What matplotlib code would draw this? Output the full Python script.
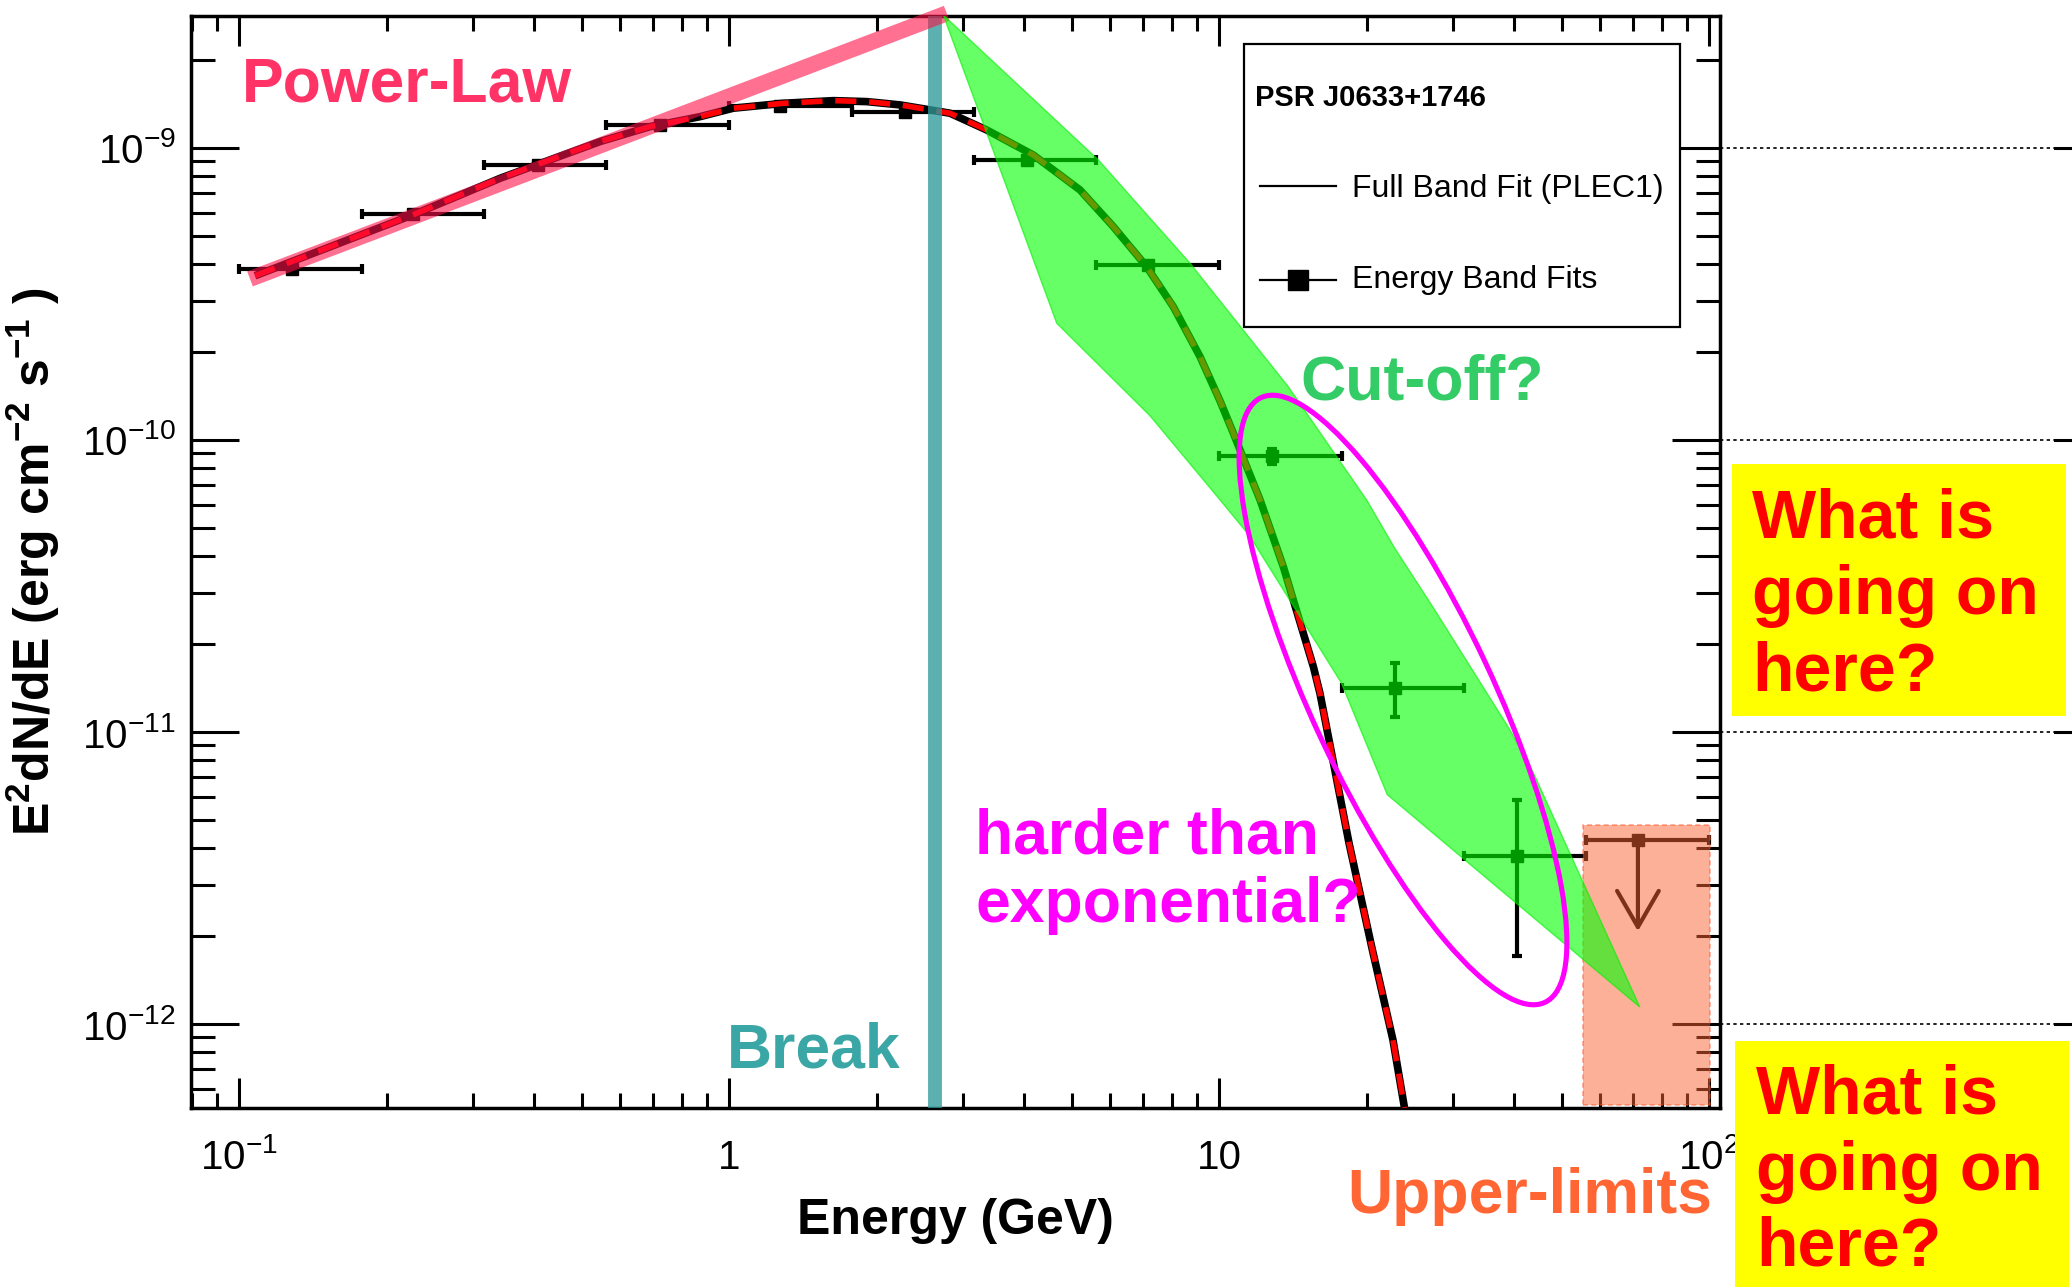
import numpy as np
import matplotlib
matplotlib.use("Agg")
import matplotlib.pyplot as plt
from matplotlib.patches import Rectangle, Ellipse, Polygon
from matplotlib.lines import Line2D
from matplotlib.ticker import FixedLocator, FixedFormatter, LogLocator, NullFormatter

plt.rcParams['font.family'] = ['Liberation Sans', 'DejaVu Sans']
plt.rcParams['mathtext.fontset'] = 'custom'
plt.rcParams['mathtext.rm'] = 'Liberation Sans'
plt.rcParams['mathtext.bf'] = 'Liberation Sans:bold'
plt.rcParams['mathtext.it'] = 'Liberation Sans:italic'

# energy band fits: GeV and erg cm^-2 s^-1
band_lo = [0.1, 0.178, 0.316, 0.562, 1.0, 1.78, 3.16, 5.62, 10.0, 17.8, 31.6]
band_hi = [0.178, 0.316, 0.562, 1.0, 1.78, 3.16, 5.62, 10.0, 17.8, 31.6, 56.2]
band_e = [0.128, 0.227, 0.408, 0.723, 1.27, 2.29, 4.05, 7.17, 12.8, 22.9, 40.6]
band_f = [3.85e-10, 5.94e-10, 8.74e-10, 1.20e-9, 1.39e-9, 1.33e-9, 9.1e-10, 3.97e-10, 8.8e-11, 1.42e-11, 3.77e-12]
band_f_lo = [3.85e-10, 5.94e-10, 8.74e-10, 1.20e-9, 1.39e-9, 1.33e-9, 9.1e-10, 3.97e-10, 8.3e-11, 1.13e-11, 1.71e-12]
band_f_hi = [3.85e-10, 5.94e-10, 8.74e-10, 1.20e-9, 1.39e-9, 1.33e-9, 9.1e-10, 3.97e-10, 9.3e-11, 1.73e-11, 5.85e-12]

# upper limit in last band
ul_lo, ul_hi, ul_e, ul_f, ul_to = 56.2, 100.0, 71.6, 4.27e-12, 2.08e-12

# full band fit (PLEC1)
fit_e = [0.1078, 0.228, 0.341, 0.431, 0.545, 0.690, 0.873, 1.020, 1.291, 1.633, 1.910,
         2.234, 2.825, 3.357, 4.178, 5.204, 6.084, 7.118, 8.067, 9.146, 10.05, 10.70,
         11.39, 12.13, 12.81, 13.53, 14.18, 14.86, 15.58, 16.07, 18.42, 20.52, 22.65, 23.91]
fit_f = [3.65e-10, 5.93e-10, 7.87e-10, 9.10e-10, 1.051e-9, 1.183e-9, 1.280e-9, 1.368e-9,
         1.422e-9, 1.452e-9, 1.441e-9, 1.404e-9, 1.315e-9, 1.152e-9, 9.46e-10, 7.18e-10,
         5.38e-10, 3.92e-10, 2.86e-10, 1.929e-10, 1.36e-10, 1.054e-10, 8.10e-11, 6.23e-11,
         4.79e-11, 3.68e-11, 2.83e-11, 2.18e-11, 1.674e-11, 1.357e-11, 4.17e-12, 1.82e-12,
         8.81e-13, 5.16e-13]

# power-law sketch and break energy
pl_e = [0.1053, 2.782]
pl_f = [3.56e-10, 2.89e-9]
break_e = 2.636

# green "cut-off" band outline (right edge down, left edge back up)
cut_e = [2.737, 5.672, 8.728, 13.85, 20.02, 22.86, 27.36, 39.2, 43.68, 72.26,
         22.05, 17.77, 11.54, 10.05, 7.23, 4.665]
cut_f = [2.853e-9, 9.10e-10, 4.03e-10, 1.522e-10, 6.23e-11, 4.25e-11, 2.67e-11, 1.021e-11, 7.33e-12, 1.143e-12,
         6.1e-12, 1.472e-11, 4.70e-11, 6.23e-11, 1.210e-10, 2.51e-10]

# upper-limit region
ulbox_e = [55.2, 100.5]
ulbox_f = [5.3e-13, 4.79e-12]

x_ticks = [0.1, 1, 10, 100]
x_labels = [r'$10^{-1}$', '1', '10', r'$10^{2}$']
y_ticks = [1e-12, 1e-11, 1e-10, 1e-9]
y_labels = [r'$10^{-12}$', r'$10^{-11}$', r'$10^{-10}$', r'$10^{-9}$']

W, H = 2072, 1287


def fx(px):
    return px / W


def fy(py):
    return 1 - py / H


fig = plt.figure(figsize=(W / 100, H / 100), dpi=100)
ax = fig.add_axes([fx(191), fy(1108), fx(1720) - fx(191), fy(16) - fy(1108)])
ax.set_xscale('log')
ax.set_yscale('log')
ax.set_xlim(0.0798, 105.3)
ax.set_ylim(5.16e-13, 2.83e-9)

# data
xerr = [np.array(band_e) - np.array(band_lo), np.array(band_hi) - np.array(band_e)]
yerr = [np.array(band_f) - np.array(band_f_lo), np.array(band_f_hi) - np.array(band_f)]
ax.errorbar(band_e, band_f, xerr=xerr, yerr=yerr, fmt='s', color='black', ms=8,
            lw=3, capsize=3.5, capthick=3, zorder=3)
ax.errorbar([ul_e], [ul_f], xerr=[[ul_e - ul_lo], [ul_hi - ul_e]], fmt='s', color='black',
            ms=8, lw=3, capsize=3.5, capthick=3, zorder=3)
ax.annotate('', xy=(ul_e, ul_to), xytext=(ul_e, ul_f),
            arrowprops=dict(arrowstyle='->,head_length=2.6,head_width=1.5', lw=3,
                            color='black', shrinkA=0, shrinkB=0, mutation_scale=10),
            zorder=3)

ax.plot(fit_e, fit_f, color='black', lw=5.5, zorder=4, solid_capstyle='butt')
ax.plot(fit_e, fit_f, color='red', lw=4, dashes=(3.8, 2.3), zorder=5)

# annotations drawn over the plot
ax.axvline(break_e, color='#2E9A9A', alpha=0.78, lw=10, zorder=6)
ax.plot(pl_e, pl_f, color='#FF1148', alpha=0.6, lw=11.5, solid_capstyle='butt',
        clip_on=False, zorder=7)
ax.add_patch(Rectangle((ulbox_e[0], ulbox_f[0]), ulbox_e[1] - ulbox_e[0], ulbox_f[1] - ulbox_f[0],
                       facecolor='#FA6232', alpha=0.5, edgecolor='#FF5020', lw=1.2,
                       linestyle=(0, (3, 2)), zorder=8))
ax.add_patch(Polygon(np.column_stack([cut_e, cut_f]), closed=True, facecolor='#00FF00',
                     alpha=0.6, edgecolor='#00EE00', lw=1, zorder=9))
ax.add_patch(Ellipse((14.03, (H - 700) / 100), 6.68, 1.81, angle=-64.85,
                     transform=fig.dpi_scale_trans, fill=False, edgecolor='#FF00FF',
                     lw=3.7, clip_on=False, zorder=10))

# axes styling like ROOT
for s in ax.spines.values():
    s.set_linewidth(2.5)
ax.xaxis.set_major_locator(FixedLocator(x_ticks))
ax.xaxis.set_major_formatter(FixedFormatter(x_labels))
ax.xaxis.set_minor_locator(LogLocator(base=10, subs=np.arange(2, 10), numticks=20))
ax.xaxis.set_minor_formatter(NullFormatter())
ax.yaxis.set_major_locator(FixedLocator(y_ticks))
ax.yaxis.set_major_formatter(FixedFormatter(y_labels))
ax.yaxis.set_minor_locator(LogLocator(base=10, subs=np.arange(2, 10), numticks=20))
ax.yaxis.set_minor_formatter(NullFormatter())
ax.tick_params(which='both', direction='in', top=True, right=True, width=2.2, color='black')
ax.tick_params(axis='x', which='major', length=21.6, labelsize=29, pad=44)
ax.tick_params(axis='x', which='minor', length=10.5)
ax.tick_params(axis='y', which='major', length=34.6, labelsize=29, pad=11)
ax.tick_params(axis='y', which='minor', length=17)
for lbl in ax.get_xticklabels():
    lbl.set_va('baseline')

ax.set_xlabel('Energy (GeV)', fontsize=36, fontweight='bold')
ax.xaxis.label.set_va('baseline')
ax.xaxis.set_label_coords(0.5, (1108 - 1234) / 1092)
ax.set_ylabel(r'E$^{\mathbf{2}}$dN/dE (erg cm$^{\mathbf{-2}}$ s$^{\mathbf{-1}}$ )',
              fontsize=36, fontweight='bold')
ax.yaxis.set_label_coords((62 - 191) / 1529, 0.5)

# dotted guide lines right of the frame
for yv in y_ticks:
    ax.plot([1.0, 1.219], [yv, yv], transform=ax.get_yaxis_transform(), color='black',
            lw=1.2, linestyle=(0, (2, 2)), clip_on=False)
    ax.plot([1.219, 1.232], [yv, yv], transform=ax.get_yaxis_transform(), color='black',
            lw=2.2, clip_on=False)

# legend (ROOT style box)
fig.add_artist(Rectangle((fx(1244), fy(327)), fx(1680) - fx(1244), fy(43.5) - fy(327),
                         transform=fig.transFigure, facecolor='white', edgecolor='black',
                         lw=1.6, zorder=5))
fig.text(fx(1255), fy(106), 'PSR J0633+1746', fontsize=21, fontweight='bold', zorder=6)
fig.add_artist(Line2D([fx(1260), fx(1336)], [fy(186), fy(186)], color='black', lw=1.6, zorder=6))
fig.text(fx(1352), fy(197), 'Full Band Fit (PLEC1)', fontsize=23, zorder=6)
fig.add_artist(Line2D([fx(1260), fx(1298), fx(1336)], [fy(280)] * 3, color='black', lw=1.6,
                      marker='s', markevery=[1], ms=14, zorder=6))
fig.text(fx(1352), fy(288), 'Energy Band Fits', fontsize=23, zorder=6)

# coloured comments
fig.text(fx(242), fy(102), 'Power-Law', color='#FF3366', fontsize=45, fontweight='bold')
fig.text(fx(1300), fy(400), 'Cut-off?', color='#33CC66', fontsize=45, fontweight='bold')
fig.text(fx(975), fy(853), 'harder than', color='#FF00FF', fontsize=45, fontweight='bold')
fig.text(fx(975), fy(922), 'exponential?', color='#FF00FF', fontsize=45, fontweight='bold')
fig.text(fx(727), fy(1067), 'Break', color='#3AA6A6', fontsize=45, fontweight='bold')
fig.text(fx(1347), fy(1213), 'Upper-limits', color='#FF6633', fontsize=45, fontweight='bold')

fig.add_artist(Rectangle((fx(1732), fy(716)), fx(2066) - fx(1732), fy(464) - fy(716),
                         transform=fig.transFigure, facecolor='#FFFF00', edgecolor='none'))
fig.add_artist(Rectangle((fx(1735), fy(1287)), fx(2069) - fx(1735), fy(1041) - fy(1287),
                         transform=fig.transFigure, facecolor='#FFFF00', edgecolor='none'))
for i, line in enumerate(['What is', 'going on', 'here?']):
    fig.text(fx(1752), fy(537 + 76.5 * i), line, color='#FF0000', fontsize=49, fontweight='bold')
    fig.text(fx(1756), fy(1113 + 76.5 * i), line, color='#FF0000', fontsize=49, fontweight='bold')

fig.savefig('out.png', dpi=100)
